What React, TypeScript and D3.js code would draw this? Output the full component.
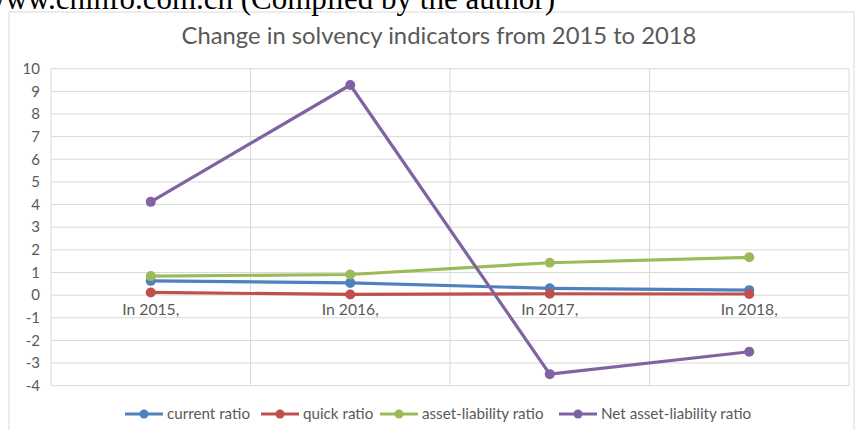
import React from 'react'
import * as d3 from 'd3'

const categories = ['In 2015,', 'In 2016,', 'In 2017,', 'In 2018,']
const currentRatio = [0.63, 0.54, 0.30, 0.22]
const quickRatio = [0.12, 0.03, 0.06, 0.05]
const assetLiability = [0.84, 0.91, 1.43, 1.67]
const netAssetLiability = [4.12, 9.28, -3.49, -2.5]
const seriesNames = ['current ratio', 'quick ratio', 'asset-liability ratio', 'Net asset-liability ratio']
const seriesColors = ['#4F81BD', '#C0504D', '#9BBB59', '#8064A2']
const yTicks = [-4, -3, -2, -1, 0, 1, 2, 3, 4, 5, 6, 7, 8, 9, 10]

const W = 856
const H = 430
const textColor = '#595959'
const font = 'Lato, "Open Sans", sans-serif'

function App() {
  const x = d3.scaleBand<string>().domain(categories).range([51, 849]).paddingInner(0).paddingOuter(0)
  const y = d3.scaleLinear().domain([-4, 10]).range([385.7, 68.7])

  const series = [currentRatio, quickRatio, assetLiability, netAssetLiability]
  const line = d3.line<number>()
    .x((_, i) => (x(categories[i]) as number) + x.bandwidth() / 2)
    .y(d => y(d))

  // legend text start positions, swatch sits just left of each
  const legendTextX = [167, 303, 422, 601]
  const legendY = 414

  return (
    <svg width={W} height={H} style={{ position: 'absolute', left: 0, top: 0, background: '#fff' }}>
      <rect x={9} y={12} width={845} height={440} fill="#fff" stroke="#d9d9d9" strokeWidth={1} />
      <text x={555} y={9} textAnchor="end" fontFamily='"Liberation Serif", "Times New Roman", serif' fontSize={31} fill="#000">
        www.cninfo.com.cn (Compiled by the author)
      </text>
      <text x={439} y={43.5} textAnchor="middle" fontFamily={font} fontSize={23.8} fill={textColor}>
        Change in solvency indicators from 2015 to 2018
      </text>

      {yTicks.map(t => (
        <g key={t}>
          <line x1={51} x2={849} y1={y(t)} y2={y(t)} stroke="#d9d9d9" strokeWidth={1} />
          <text x={40} y={y(t)} dy="0.35em" textAnchor="end" fontFamily={font} fontSize={15} fill={textColor}>{t}</text>
        </g>
      ))}
      {categories.map(c => (
        <line key={c} x1={x(c)} x2={x(c)} y1={y(10)} y2={y(-4)} stroke="#d9d9d9" strokeWidth={1} />
      ))}
      <line x1={849} x2={849} y1={y(10)} y2={y(-4)} stroke="#d9d9d9" strokeWidth={1} />

      {categories.map(c => (
        <text key={c} x={(x(c) as number) + x.bandwidth() / 2} y={310} dy="0.35em" textAnchor="middle" fontFamily={font} fontSize={15.7} fill={textColor}>{c}</text>
      ))}

      {series.map((s, si) => (
        <g key={si}>
          <path d={line(s) || ''} fill="none" stroke={seriesColors[si]} strokeWidth={3.2} strokeLinejoin="round" />
          {s.map((v, i) => (
            <circle key={i} cx={(x(categories[i]) as number) + x.bandwidth() / 2} cy={y(v)} r={5} fill={seriesColors[si]} />
          ))}
        </g>
      ))}

      {seriesNames.map((n, i) => (
        <g key={n} transform={`translate(${legendTextX[i]},${legendY})`}>
          <line x1={-42} x2={-4} y1={0} y2={0} stroke={seriesColors[i]} strokeWidth={3.2} />
          <circle cx={-23} cy={0} r={4.5} fill={seriesColors[i]} />
          <text x={0} y={0} dy="0.35em" fontFamily={font} fontSize={15.2} fill={textColor}>{n}</text>
        </g>
      ))}
    </svg>
  )
}

export default App
